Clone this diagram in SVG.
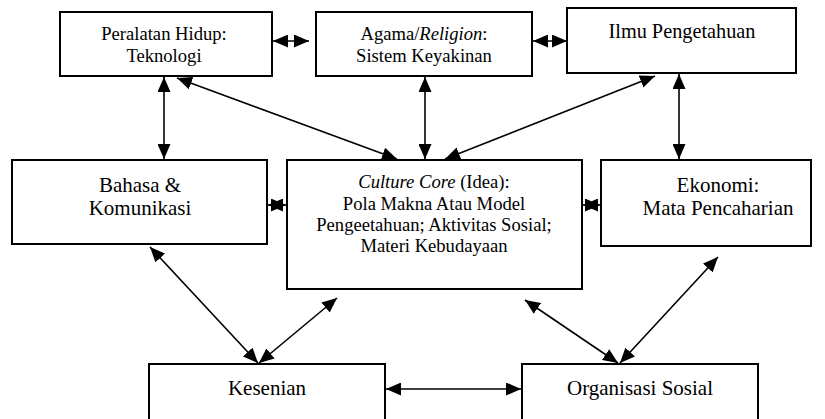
<svg xmlns="http://www.w3.org/2000/svg" width="825" height="419" viewBox="0 0 825 419">
<style>
.box{fill:#fff;stroke:#000;stroke-width:2}
.t{font-family:'Liberation Serif','DejaVu Serif',serif;font-size:18.6px;fill:#000;text-anchor:middle}
.l{font-size:21px}
.c{stroke:#000;stroke-width:1.6;fill:none;marker-start:url(#ah);marker-end:url(#ah)}
</style>
<defs>
<marker id="ah" markerUnits="userSpaceOnUse" markerWidth="15" markerHeight="13" refX="15" refY="6.5" orient="auto-start-reverse" viewBox="0 0 15 13">
<path d="M0,0 L15,6.5 L0,13 z" fill="#000"/>
</marker>
</defs>
<rect width="825" height="419" fill="#fff"/>
<g id="connectors">
<line class="c" x1="273" y1="41" x2="309" y2="41"/>
<line class="c" x1="533" y1="41" x2="567" y2="41"/>
<line class="c" x1="164" y1="77" x2="164" y2="159"/>
<line class="c" x1="425" y1="77" x2="425" y2="159"/>
<line class="c" x1="679" y1="74" x2="679" y2="159"/>
<line class="c" x1="177" y1="78" x2="397" y2="159"/>
<line class="c" x1="655" y1="76" x2="445" y2="159"/>
<line class="c" x1="268" y1="205" x2="286" y2="205"/>
<line class="c" x1="583" y1="205" x2="600" y2="205"/>
<line class="c" x1="150" y1="247" x2="258" y2="363"/>
<line class="c" x1="337" y1="298" x2="259" y2="363"/>
<line class="c" x1="525" y1="300" x2="618" y2="363"/>
<line class="c" x1="718" y1="257" x2="620" y2="363"/>
<line class="c" x1="386" y1="389" x2="521" y2="389"/>
</g>
<g id="n-peralatan">
<rect class="box" x="60" y="12" width="212" height="64"/>
<text class="t" x="164" y="40">Peralatan Hidup:</text>
<text class="t" x="164" y="62">Teknologi</text>
</g>
<g id="n-agama">
<rect class="box" x="316" y="12" width="216" height="64"/>
<text class="t" x="424" y="40">Agama/<tspan font-style="italic">Religion</tspan>:</text>
<text class="t" x="424" y="62">Sistem Keyakinan</text>
</g>
<g id="n-ilmu">
<rect class="box" x="567" y="8" width="229" height="65"/>
<text class="t" x="682" y="38" style="font-size:20.3px">Ilmu Pengetahuan</text>
</g>
<g id="n-bahasa">
<rect class="box" x="12" y="160" width="255" height="84"/>
<text class="t l" x="140" y="192">Bahasa &amp;</text>
<text class="t l" x="140" y="215">Komunikasi</text>
</g>
<g id="n-culture">
<rect class="box" x="287" y="160" width="295" height="129"/>
<text class="t" x="434" y="188"><tspan font-style="italic">Culture Core</tspan> (Idea):</text>
<text class="t" x="434" y="210">Pola Makna Atau Model</text>
<text class="t" x="434" y="231">Pengeetahuan; Aktivitas Sosial;</text>
<text class="t" x="434" y="252">Materi Kebudayaan</text>
</g>
<g id="n-ekonomi">
<rect class="box" x="601" y="160" width="210" height="86"/>
<text class="t l" x="718" y="192">Ekonomi:</text>
<text class="t l" x="718" y="215">Mata Pencaharian</text>
</g>
<g id="n-kesenian">
<rect class="box" x="149" y="364" width="236" height="70"/>
<text class="t l" x="267" y="395">Kesenian</text>
</g>
<g id="n-organisasi">
<rect class="box" x="522" y="364" width="236" height="70"/>
<text class="t l" x="640" y="395">Organisasi Sosial</text>
</g>
</svg>
